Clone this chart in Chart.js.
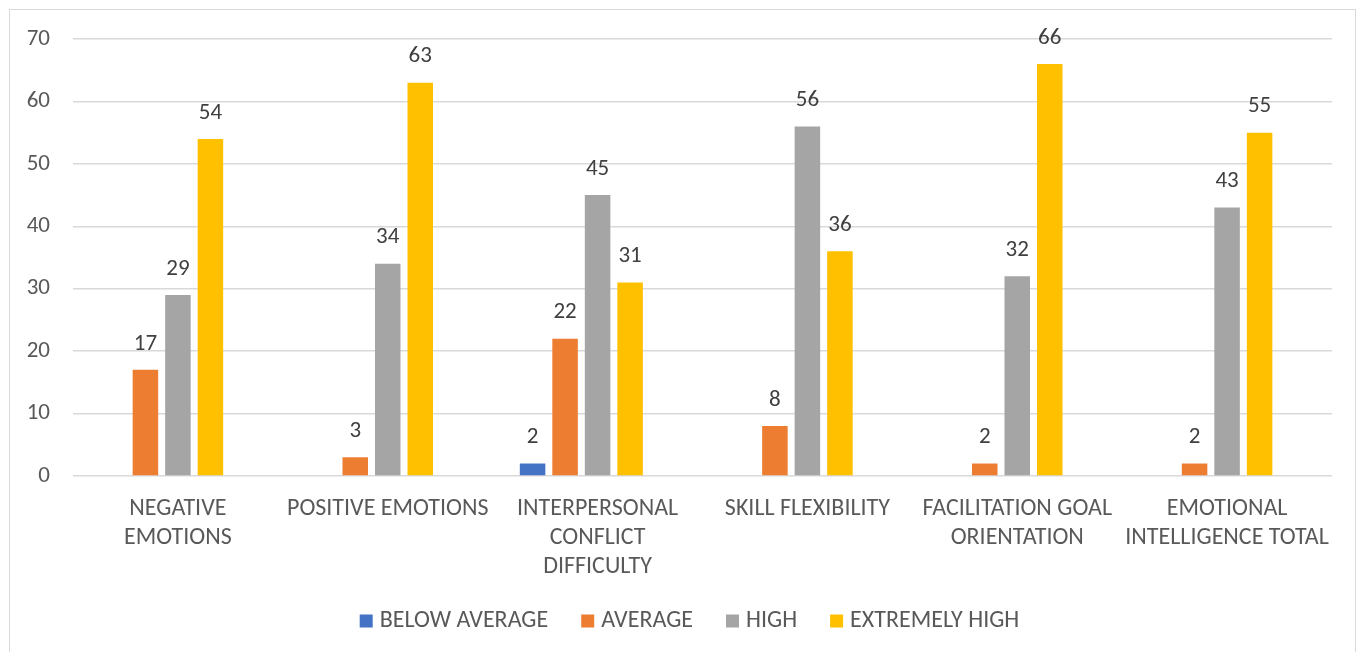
<!DOCTYPE html>
<html>
<head>
<meta charset="utf-8">
<script src="https://cdn.jsdelivr.net/npm/chart.js@4.4.1/dist/chart.umd.min.js"></script>
<style>
    html, body { margin: 0; padding: 0; background: #fff; }
    #wrap { position: relative; width: 1365px; height: 652px; overflow: hidden; }
    #frame { position: absolute; left: 9px; top: 9px; width: 1347px; height: 660px; border: 1px solid #d9d9d9; box-sizing: border-box; }
    canvas { position: absolute; left: 0; top: 0; }
</style>
</head>
<body>
<div id="wrap">
    <div id="frame"></div>
    <canvas id="chart" width="1365" height="652"></canvas>
</div>
<script>
const categories = [
    ['NEGATIVE', 'EMOTIONS'],
    'POSITIVE EMOTIONS',
    ['INTERPERSONAL', 'CONFLICT', 'DIFFICULTY'],
    'SKILL FLEXIBILITY',
    ['FACILITATION GOAL', 'ORIENTATION'],
    ['EMOTIONAL', 'INTELLIGENCE TOTAL']
];
const seriesNames = ['BELOW AVERAGE', 'AVERAGE', 'HIGH', 'EXTREMELY HIGH'];
const belowAverage = [0, 0, 2, 0, 0, 0];
const average = [17, 3, 22, 8, 2, 2];
const high = [29, 34, 45, 56, 32, 43];
const extremelyHigh = [54, 63, 31, 36, 66, 55];
// the source sheet has an empty fifth column, so each group sits left of its label
const emptySeries = [null, null, null, null, null, null];
const yTicks = [0, 10, 20, 30, 40, 50, 60, 70];

const colors = ['#4472C4', '#ED7D31', '#A5A5A5', '#FFC000'];
const FONT = 'Carlito, Calibri, "Open Sans", sans-serif';
const FSIZE = 24;
const NUM_SIZE = 23;

const valueLabels = {
    id: 'valueLabels',
    afterDatasetsDraw(chart) {
        const ctx = chart.ctx;
        ctx.save();
        ctx.font = `${NUM_SIZE}px ${FONT}`;
        ctx.fillStyle = '#404040';
        ctx.textAlign = 'center';
        ctx.textBaseline = 'middle';
        chart.data.datasets.forEach((ds, i) => {
            if (ds.isSpacer) return;
            chart.getDatasetMeta(i).data.forEach((bar, j) => {
                const v = ds.data[j];
                if (!v) return;
                ctx.fillText(String(v), bar.x, bar.y - 26);
            });
        });
        ctx.restore();
    }
};

// excel-style legend: small square, short gap, wide spacing between entries
const bottomLegend = {
    id: 'bottomLegend',
    afterDraw(chart) {
        const ctx = chart.ctx;
        const box = 13, gap = 7, spacing = 33;
        const y = chart.chartArea.bottom + 145;
        ctx.save();
        ctx.font = `${FSIZE}px ${FONT}`;
        ctx.textBaseline = 'middle';
        const widths = seriesNames.map(n => ctx.measureText(n).width);
        const total = widths.reduce((a, w) => a + box + gap + w, 0) + spacing * (seriesNames.length - 1);
        let x = chart.width / 2 + 7 - total / 2;
        seriesNames.forEach((name, i) => {
            ctx.fillStyle = colors[i];
            ctx.fillRect(x, y - box / 2, box, box);
            ctx.fillStyle = '#595959';
            ctx.fillText(name, x + box + gap, y);
            x += box + gap + widths[i] + spacing;
        });
        ctx.restore();
    }
};

const barOpts = { borderWidth: 0, categoryPercentage: 0.7745, barPercentage: 0.785 };
const datasets = [belowAverage, average, high, extremelyHigh].map((d, i) => ({
    ...barOpts,
    label: seriesNames[i],
    data: d,
    backgroundColor: colors[i]
}));
datasets.push({ ...barOpts, label: '', data: emptySeries, isSpacer: true, backgroundColor: 'rgba(0,0,0,0)' });

new Chart(document.getElementById('chart').getContext('2d'), {
    type: 'bar',
    data: { labels: categories, datasets },
    options: {
        responsive: false,
        animation: false,
        layout: { padding: { left: 0, right: 33, top: 39, bottom: 0 } },
        plugins: {
            tooltip: { enabled: false },
            legend: { display: false }
        },
        scales: {
            x: {
                grid: { display: false, drawTicks: false },
                border: { display: false },
                ticks: {
                    color: '#595959',
                    font: { family: FONT, size: FSIZE, lineHeight: 29 / FSIZE },
                    padding: 18,
                    maxRotation: 0,
                    autoSkip: false
                },
                afterFit: (s) => { s.height = 176; }
            },
            y: {
                min: 0,
                max: yTicks[yTicks.length - 1],
                grid: { color: '#d9d9d9', lineWidth: 1.5, drawTicks: false },
                border: { display: false },
                ticks: {
                    stepSize: yTicks[1] - yTicks[0],
                    color: '#595959',
                    font: { family: FONT, size: NUM_SIZE },
                    padding: 23
                },
                afterFit: (s) => { s.width = 73; }
            }
        }
    },
    plugins: [valueLabels, bottomLegend]
});
</script>
</body>
</html>
